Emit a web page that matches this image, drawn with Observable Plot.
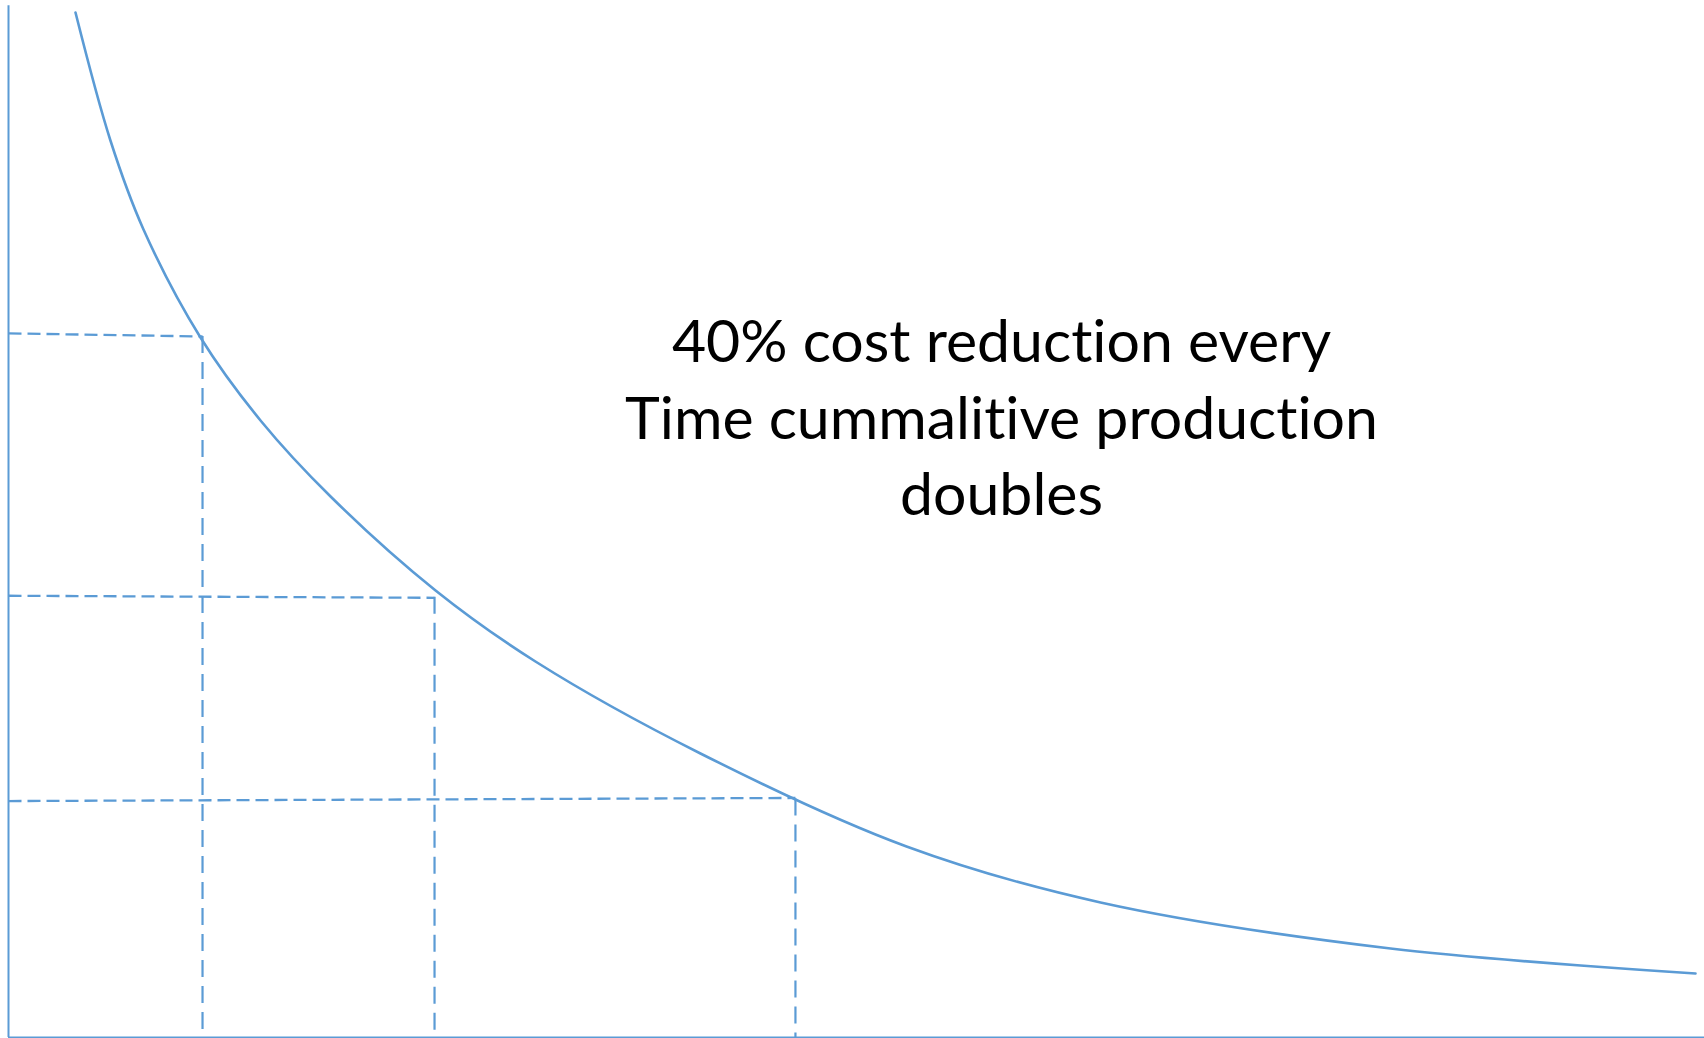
<!DOCTYPE html>
<html>
<head>
<meta charset="utf-8">
<script src="https://cdn.jsdelivr.net/npm/d3@7"></script>
<script src="https://cdn.jsdelivr.net/npm/@observablehq/plot@0.6"></script>
<style>
  html, body { margin: 0; padding: 0; background: #ffffff; }
  #chart svg { display: block; }
  #chart text { font-variant-ligatures: none; font-feature-settings: "liga" 0, "clig" 0, "dlig" 0; }
</style>
</head>
<body>
<div id="chart"></div>
<script>
// Experience (learning) curve: cumulative production (x) vs cost (y), arbitrary units 0–100
const production = [3.95, 6.01, 7.96, 11.32, 14.86, 18.99, 25.18, 31.07, 40.8, 52.95, 64.39, 81.49, 99.47];
const cost       = [98.84, 86.5, 77.92, 67.5, 59.5, 52.17, 43.11, 36.26, 27.39, 18.42, 13.02, 8.58, 6.17];

// Dashed guide lines: doubling points on the curve
const guideX      = [11.44, 25.12, 46.4];
const guideY      = [67.6, 42.45, 23.0];
const guideYStart = [67.9, 42.6, 22.8];   // y at the left axis (lines are slightly sloped)
const guideYEnd   = [67.6, 42.4, 23.1];   // y where they meet the vertical guide

// Annotation
const noteLines = ["40% cost reduction every", "Time cummalitive production", "doubles"];
const noteX = 58.55;
const noteY = [65.1, 57.75, 50.35];

const curve = production.map((x, i) => ({x, y: cost[i]}));
const hGuides = guideX.map((x, i) => ({x1: 0, x2: x, y1: guideYStart[i], y2: guideYEnd[i]}));
const vGuides = guideX.map((x, i) => ({x, y1: guideY[i], y2: 0}));
const notes = noteLines.map((t, i) => ({t, x: noteX, y: noteY[i]}));

const blue = "#5B9BD5";

const chart = Plot.plot({
  width: 1704,
  height: 1038,
  marginLeft: 8,
  marginRight: 0,
  marginTop: 0,
  marginBottom: 1,
  x: {domain: [0, 100], axis: null},
  y: {domain: [0, 100], axis: null},
  style: {background: "#ffffff", overflow: "visible"},
  marks: [
    Plot.link(hGuides, {x1: "x1", x2: "x2", y1: "y1", y2: "y2", stroke: blue, strokeWidth: 2.3, strokeDasharray: "13,6"}),
    Plot.ruleX(vGuides, {x: "x", y1: "y1", y2: "y2", stroke: blue, strokeWidth: 2.2, strokeDasharray: "17,9"}),
    Plot.ruleX([0], {y1: 99.5, y2: 0, stroke: blue, strokeWidth: 2}),
    Plot.ruleY([0], {x1: 0, x2: 100, stroke: blue, strokeWidth: 2}),
    Plot.line(curve, {x: "x", y: "y", stroke: blue, strokeWidth: 2.6, curve: "catmull-rom"}),
    Plot.text(notes, {x: "x", y: "y", text: "t", textAnchor: "middle", lineAnchor: "bottom",
      fontSize: 59, fontFamily: "Lato, 'Open Sans', sans-serif", fill: "#000000"})
  ]
});
document.getElementById("chart").appendChild(chart);
</script>
</body>
</html>
